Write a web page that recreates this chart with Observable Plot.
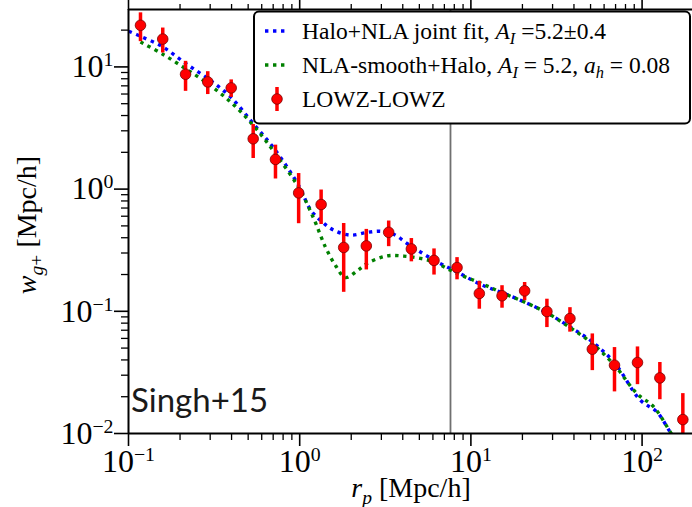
<!DOCTYPE html>
<html><head><meta charset="utf-8">
<script src="https://cdn.jsdelivr.net/npm/d3@7"></script>
<script src="https://cdn.jsdelivr.net/npm/@observablehq/plot@0.6"></script>
<style>body{margin:0;background:#fff} #chart{position:relative;width:692px;height:507px}</style>
</head><body><div id="chart"></div>
<script>
// LOWZ-LOWZ measurements
const rp = [0.1175, 0.1585, 0.2154, 0.2904, 0.398, 0.535, 0.722, 0.986, 1.334, 1.807, 2.45, 3.31, 4.49, 6.09, 8.30, 11.2, 15.2, 20.6, 27.8, 37.9, 51.2, 69.0, 94.0, 127, 173];
const wgp = [21.9, 16.9, 8.71, 7.54, 6.73, 2.58, 1.75, 0.931, 0.748, 0.333, 0.343, 0.443, 0.324, 0.261, 0.228, 0.140, 0.134, 0.147, 0.0996, 0.0873, 0.0490, 0.0362, 0.0381, 0.0285, 0.0130];
const wgpErr = [5.8, 3.9, 2.4, 1.6, 1.1, 0.8, 0.54, 0.41, 0.235, 0.19, 0.125, 0.105, 0.07, 0.063, 0.047, 0.036, 0.028, 0.025, 0.026, 0.0198, 0.0163, 0.0143, 0.013, 0.0096, 0.0082];

// Halo+NLA joint fit (blue)
const fitX = [0.1004, 0.1175, 0.1585, 0.215, 0.290, 0.394, 0.535, 0.721, 0.99, 1.154, 1.352, 1.581, 1.98, 2.47, 2.96, 3.54, 4.24, 5.07, 6.09, 7.25, 8.30, 11.3, 15.2, 20.6, 27.8, 37.9, 51.2, 69.0, 97.5, 122, 146, 167];
const fitY = [19.6, 17.8, 14.6, 10.7, 8.04, 5.69, 3.44, 2.08, 1.06, 0.681, 0.539, 0.461, 0.420, 0.442, 0.452, 0.427, 0.359, 0.306, 0.262, 0.231, 0.210, 0.167, 0.142, 0.119, 0.0971, 0.0745, 0.0562, 0.0379, 0.0188, 0.0150, 0.0103, 0.008];

// NLA-smooth+Halo (green)
const smoothX = [0.1175, 0.1585, 0.215, 0.290, 0.394, 0.535, 0.721, 0.99, 1.208, 1.413, 1.616, 1.848, 2.16, 2.47, 2.96, 3.38, 4.05, 5.07, 6.09, 7.25, 8.30, 11.3, 15.2, 20.6, 27.8, 37.9, 51.2, 69.0, 93.3, 117, 146, 163];
const smoothY = [16.0, 12.7, 9.70, 7.31, 5.18, 3.33, 1.95, 1.02, 0.574, 0.336, 0.238, 0.189, 0.214, 0.246, 0.275, 0.286, 0.283, 0.271, 0.254, 0.224, 0.204, 0.171, 0.142, 0.119, 0.0971, 0.0736, 0.0545, 0.0362, 0.0212, 0.0165, 0.0103, 0.008];

// reference line
const rCut = [7.6];

// ticks
const xMajor = [0.1, 1, 10, 100];
const xMajorLabels = ["10^-1", "10^0", "10^1", "10^2"];
const xMinor = [0.2,0.3,0.4,0.5,0.6,0.7,0.8,0.9,2,3,4,5,6,7,8,9,20,30,40,50,60,70,80,90];
const yMajor = [0.01, 0.1, 1, 10];
const yMajorLabels = ["10^-2", "10^-1", "10^0", "10^1"];
const yMinor = [0.02,0.03,0.04,0.05,0.06,0.07,0.08,0.09,0.2,0.3,0.4,0.5,0.6,0.7,0.8,0.9,2,3,4,5,6,7,8,9,20];

const xDomain = [0.1, 197];
const yDomain = [0.01, 29.5];

const data = rp.map((x, i) => ({x, y: wgp[i], lo: wgp[i] - wgpErr[i], hi: wgp[i] + wgpErr[i]}));
const fit = fitX.map((x, i) => ({x, y: fitY[i]}));
const smooth = smoothX.map((x, i) => ({x, y: smoothY[i]}));

const serif = "'Liberation Serif', 'Times New Roman', serif";
const dots = {strokeWidth: 3.4, strokeDasharray: "3.4,4.6", strokeLinecap: "butt", strokeLinejoin: "miter", curve: "catmull-rom", clip: true};

const plot = Plot.plot({
  width: 692, height: 507,
  marginLeft: 128, marginRight: 0, marginTop: 9, marginBottom: 74,
  style: {fontFamily: serif, background: "white", color: "black"},
  x: {type: "log", domain: xDomain},
  y: {type: "log", domain: yDomain},
  marks: [
    Plot.ruleX(rCut, {stroke: "#707070", strokeWidth: 1.8}),
    Plot.line(fit, {x: "x", y: "y", stroke: "blue", ...dots}),
    Plot.line(smooth, {x: "x", y: "y", stroke: "green", ...dots}),
    Plot.ruleX(data, {x: "x", y1: "lo", y2: "hi", stroke: "red", strokeWidth: 3.5, clip: true}),
    Plot.dot(data, {x: "x", y: "y", r: 5.3, fill: "red", stroke: "#7a0000", strokeWidth: 0.8}),
    // axes
    Plot.axisX(xMajor, {anchor: "bottom", tickSize: 13, tickPadding: 3, fontSize: 32, strokeWidth: 1.6, label: null, tickFormat: d => xMajorLabels[xMajor.indexOf(d)]}),
    Plot.axisX(xMinor, {anchor: "bottom", tickSize: 7, strokeWidth: 1.3, label: null, tickFormat: () => ""}),
    Plot.axisX(xMajor, {anchor: "top", tickSize: 13, strokeWidth: 1.6, label: null, tickFormat: () => ""}),
    Plot.axisX(xMinor, {anchor: "top", tickSize: 6, strokeWidth: 1.3, label: null, tickFormat: () => ""}),
    Plot.axisY(yMajor, {anchor: "left", tickSize: 14, tickPadding: 1, fontSize: 32, strokeWidth: 1.6, label: null, tickFormat: d => yMajorLabels[yMajor.indexOf(d)]}),
    Plot.axisY(yMinor, {anchor: "left", tickSize: 7, strokeWidth: 1.3, label: null, tickFormat: () => ""}),
    Plot.ruleX([xDomain[0]], {stroke: "black", strokeWidth: 2}),
    Plot.ruleY([yDomain[0]], {stroke: "black", strokeWidth: 2}),
    Plot.ruleY([yDomain[1]], {stroke: "black", strokeWidth: 2})
  ]
});
document.getElementById("chart").appendChild(plot);

const svg = d3.select(plot);
// superscript tick labels
svg.selectAll("text").each(function() {
  const m = /^10\^(.+)$/.exec(this.textContent);
  if (!m) return;
  const t = d3.select(this);
  t.text("");
  t.append("tspan").text("10");
  t.append("tspan").attr("font-size", "0.62em").attr("dy", "-0.55em").text(m[1].replace("-", "\u2212"));
});

function rich(g, x, y, parts, size, anchor) {
  const t = g.append("text").attr("x", x).attr("y", y).attr("font-size", size)
    .attr("text-anchor", anchor || "start").attr("font-family", serif).attr("fill", "black");
  let shift = 0;
  for (const p of parts) {
    const ts = t.append("tspan").text(p.t);
    if (p.it) ts.attr("font-style", "italic");
    const target = p.sub ? size * 0.25 : 0;
    ts.attr("font-size", p.sub ? size * 0.7 : size);
    if (target !== shift) { ts.attr("dy", target - shift); shift = target; }
  }
  return t;
}

// axis labels
rich(svg, 411, 497, [{t: "r", it: 1}, {t: "p", it: 1, sub: 1}, {t: " [Mpc/h]"}], 28, "middle");
const yl = svg.append("g").attr("transform", "translate(36,225) rotate(-90)");
rich(yl, 0, 0, [{t: "w", it: 1}, {t: "g", it: 1, sub: 1}, {t: "+", sub: 1}, {t: " [Mpc/h]"}], 28, "middle");

// annotation
svg.append("text").attr("x", 131).attr("y", 412).attr("text-anchor", "start")
  .attr("font-family", "Lato, 'Open Sans', sans-serif")
  .attr("font-size", 33).attr("fill", "#1a1a1a").text("Singh+15");

// legend
const lg = svg.append("g");
lg.append("rect").attr("x", 254).attr("y", 11.5).attr("width", 436).attr("height", 112).attr("rx", 5)
  .attr("fill", "white").attr("stroke", "black").attr("stroke-width", 2);
lg.append("line").attr("x1", 265).attr("x2", 289).attr("y1", 31).attr("y2", 31)
  .attr("stroke", "blue").attr("stroke-width", 3.4).attr("stroke-dasharray", "3.4,4.6");
lg.append("line").attr("x1", 265).attr("x2", 289).attr("y1", 65).attr("y2", 65)
  .attr("stroke", "green").attr("stroke-width", 3.4).attr("stroke-dasharray", "3.4,4.6");
lg.append("line").attr("x1", 277).attr("x2", 277).attr("y1", 87).attr("y2", 111)
  .attr("stroke", "red").attr("stroke-width", 3.5);
lg.append("circle").attr("cx", 277).attr("cy", 99).attr("r", 5.3).attr("fill", "red")
  .attr("stroke", "#7a0000").attr("stroke-width", 0.8);
const ls = 23.5;
rich(lg, 302, 38.5, [{t: "Halo+NLA joint fit, "}, {t: "A", it: 1}, {t: "I", it: 1, sub: 1}, {t: " =5.2\u00b10.4"}], ls);
rich(lg, 302, 72.5, [{t: "NLA-smooth+Halo, "}, {t: "A", it: 1}, {t: "I", it: 1, sub: 1}, {t: " = 5.2, "}, {t: "a", it: 1}, {t: "h", it: 1, sub: 1}, {t: " = 0.08"}], ls);
rich(lg, 302, 106.5, [{t: "LOWZ-LOWZ"}], ls);
</script>
</body></html>
